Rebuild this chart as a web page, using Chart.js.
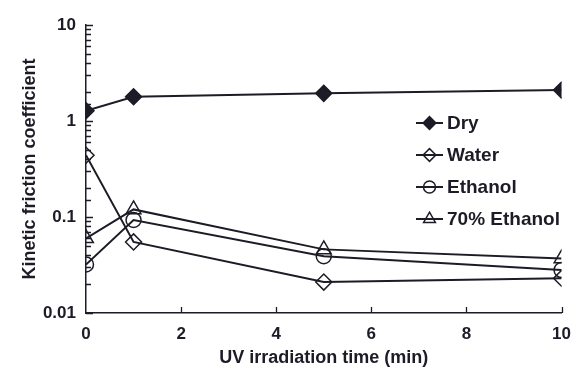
<!DOCTYPE html>
<html>
<head>
<meta charset="utf-8">
<script src="https://cdn.jsdelivr.net/npm/chart.js@4.4.1/dist/chart.umd.min.js"></script>
<style>
  html, body { margin: 0; padding: 0; background: #fff; }
</style>
</head>
<body>
<canvas id="chart" width="582" height="374"></canvas>
<script>
  // Kinetic friction vs. UV irradiation time
  const times = [0, 1, 5, 10];
  const dry = [1.28, 1.79, 1.94, 2.1];
  const water = [0.44, 0.055, 0.021, 0.023];
  const ethanol = [0.032, 0.093, 0.039, 0.028];
  const ethanol70 = [0.06, 0.12, 0.046, 0.037];
  const seriesNames = ['Dry', 'Water', 'Ethanol', '70% Ethanol'];
  const yTickLabels = ['0.01', '0.1', '1', '10'];
  const xTickStep = 2;

  const ink = '#1d1b26';
  const fontFamily = 'Arial, "Liberation Sans", Helvetica, sans-serif';

  function pts(vals) {
    return times.map((t, i) => ({ x: t, y: vals[i] }));
  }

  function isDecade(v) {
    const l = Math.log10(v);
    return Math.abs(l - Math.round(l)) < 1e-6;
  }

  // tick marks pointing into the plot, major ones longer
  const inwardTicks = {
    id: 'inwardTicks',
    beforeDatasetsDraw(chart) {
      const { ctx, chartArea, scales } = chart;
      ctx.save();
      ctx.strokeStyle = ink;
      ctx.lineWidth = 1.3;
      ctx.beginPath();
      scales.y.ticks.forEach(t => {
        const y = Math.round(scales.y.getPixelForValue(t.value)) + 0.5;
        const len = isDecade(t.value) ? 7 : 5;
        ctx.moveTo(chartArea.left, y);
        ctx.lineTo(chartArea.left + len, y);
      });
      scales.x.ticks.forEach(t => {
        if (t.value === 0) return;
        const x = Math.round(scales.x.getPixelForValue(t.value)) + 0.5;
        ctx.moveTo(x, chartArea.bottom);
        ctx.lineTo(x, chartArea.bottom - 6);
      });
      ctx.stroke();
      ctx.restore();
    }
  };

  // legend inside the plot: short line with the marker on it
  const lineLegend = {
    id: 'lineLegend',
    afterDraw(chart, args, opts) {
      const { ctx } = chart;
      ctx.save();
      chart.data.datasets.forEach((ds, i) => {
        const y = opts.top + i * opts.spacing;
        ctx.strokeStyle = ds.borderColor;
        ctx.lineWidth = ds.borderWidth;
        ctx.beginPath();
        ctx.moveTo(opts.left, y);
        ctx.lineTo(opts.left + opts.lineLength, y);
        ctx.stroke();
        ctx.fillStyle = ds.pointBackgroundColor;
        ctx.strokeStyle = ds.pointBorderColor;
        ctx.lineWidth = ds.pointBorderWidth;
        Chart.helpers.drawPoint(ctx, {
          pointStyle: ds.pointStyle,
          radius: ds.pointRadius * 0.8,
          rotation: 0,
          borderWidth: ds.pointBorderWidth
        }, opts.left + opts.lineLength / 2, y);
        ctx.fillStyle = ink;
        ctx.font = opts.font;
        ctx.textAlign = 'left';
        ctx.textBaseline = 'middle';
        ctx.fillText(ds.label, opts.left + opts.lineLength + 4, y + 1);
      });
      ctx.restore();
    }
  };

  function series(label, vals, style, filled, radius) {
    return {
      label,
      data: pts(vals),
      borderColor: ink,
      borderWidth: 2,
      pointStyle: style,
      pointRadius: radius,
      pointHoverRadius: radius,
      pointBackgroundColor: filled ? ink : 'rgba(0,0,0,0)',
      pointBorderColor: ink,
      pointBorderWidth: 1.5,
      tension: 0
    };
  }

  const tickFont = { family: fontFamily, size: 17, weight: 'bold' };
  const titleFont = { family: fontFamily, size: 18, weight: 'bold' };

  new Chart(document.getElementById('chart'), {
    type: 'line',
    data: {
      datasets: [
        series(seriesNames[0], dry, 'rectRot', true, 8),
        series(seriesNames[1], water, 'rectRot', false, 8),
        series(seriesNames[2], ethanol, 'circle', false, 7.5),
        series(seriesNames[3], ethanol70, 'triangle', false, 8.5)
      ]
    },
    options: {
      responsive: false,
      animation: false,
      layout: { padding: { top: 25, right: 10, left: 0, bottom: 0 } },
      plugins: {
        legend: { display: false },
        tooltip: { enabled: false },
        lineLegend: {
          left: 416, top: 123, spacing: 32, lineLength: 27,
          font: 'bold 19px ' + fontFamily
        }
      },
      scales: {
        x: {
          type: 'linear',
          min: 0,
          max: 10,
          afterFit(s) { s.height = 61; },
          grid: { display: false, drawTicks: false },
          border: { display: true, color: ink, width: 1.5 },
          ticks: { stepSize: xTickStep, padding: 11, color: ink, font: tickFont },
          title: {
            display: true,
            text: 'UV irradiation time (min)',
            color: ink,
            font: titleFont,
            padding: { top: 0, bottom: 5 }
          }
        },
        y: {
          type: 'logarithmic',
          min: 0.01,
          max: 10,
          afterFit(s) { s.width = 86; },
          grid: { display: false, drawTicks: false },
          border: { display: true, color: ink, width: 1.5 },
          ticks: {
            autoSkip: false,
            padding: 10,
            color: ink,
            font: tickFont,
            callback(v) {
              if (!isDecade(v)) return '';
              return yTickLabels.find(l => Math.abs(Number(l) - v) < v * 1e-6) || '';
            }
          },
          title: {
            display: true,
            text: 'Kinetic friction coefficient',
            color: ink,
            font: titleFont,
            padding: { top: 19, bottom: 0 }
          }
        }
      }
    },
    plugins: [inwardTicks, lineLegend]
  });
</script>
</body>
</html>
